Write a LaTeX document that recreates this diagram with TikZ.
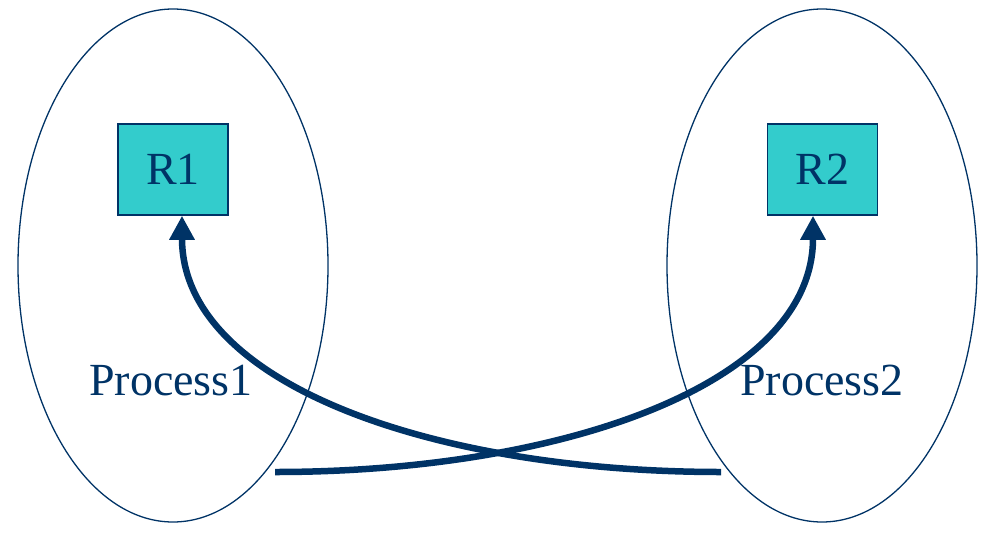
\documentclass[tikz,border=0pt]{standalone}
\usepackage{fontspec}
\setmainfont{Liberation Serif}
\usetikzlibrary{arrows.meta,shapes.geometric}
\definecolor{navyc}{HTML}{003366}
\definecolor{tealc}{HTML}{33CCCC}
\begin{document}
\begin{tikzpicture}[x=1pt,y=-1pt,
  proc/.style={draw=navyc,line width=1.3pt,ellipse,minimum width=310pt,minimum height=513pt,inner sep=0pt},
  res/.style={draw=navyc,line width=1.5pt,fill=tealc,minimum width=110pt,minimum height=91pt,inner sep=0pt,text=navyc,font=\fontsize{46}{50}\selectfont},
  lbl/.style={text=navyc,font=\fontsize{46}{50}\selectfont,anchor=base,inner sep=0pt},
  conn/.style={draw=navyc,line width=6.5pt,-{Triangle[length=24pt,width=24pt]}}]
\useasboundingbox (0,0) rectangle (981,538);
\node[proc] (p1) at (173,265.5) {};
\node[proc] (p2) at (822,265.5) {};
\node[res] (r1) at (173,169.5) {R1};
\node[res] (r2) at (822.5,169.5) {R2};
\node[lbl] (l1) at (171,395) {Process1};
\node[lbl] (l2) at (822,395) {Process2};
\coordinate (s1) at (275,472);
\coordinate (s2) at (721,472);
\draw[conn] (s1) .. controls (560,472) and (813,385) .. (r2.south -| 813,0);
\draw[conn] (s2) .. controls (436,472) and (182,385) .. (r1.south -| 182,0);
\end{tikzpicture}
\end{document}
